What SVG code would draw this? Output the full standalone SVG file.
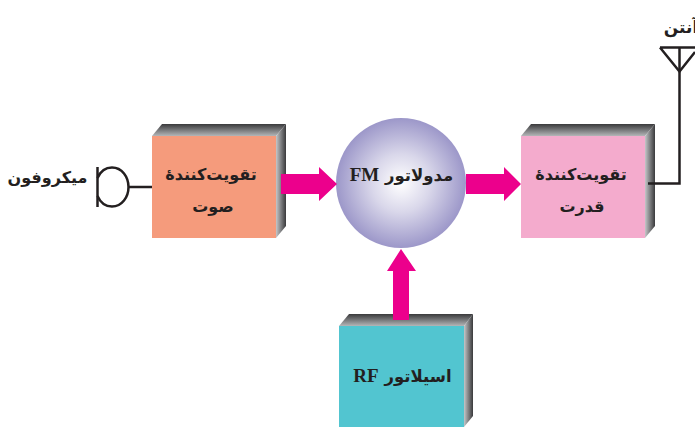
<svg xmlns="http://www.w3.org/2000/svg" width="695" height="427" viewBox="0 0 695 427">
<style>
text{font-family:"DejaVu Sans",sans-serif;font-weight:bold;fill:#231f20;text-anchor:middle;font-size:16px;direction:rtl}
.big{font-size:16.500px}
.lat{font-family:"Liberation Serif",serif;font-size:19px}
.wire{fill:none;stroke:#231f20;stroke-width:2.500}
.arrow{fill:#ec008c}
</style>
<defs>
<linearGradient id="top" x1="0" y1="1" x2="0" y2="0"><stop offset="0" stop-color="#b4b6b8"/><stop offset="1" stop-color="#3a3a3c"/></linearGradient>
<linearGradient id="side" x1="0" y1="0" x2="1" y2="0"><stop offset="0" stop-color="#c4c6c8"/><stop offset="1" stop-color="#3a3a3c"/></linearGradient>
<radialGradient id="ball" cx="0.5" cy="0.5" r="0.5"><stop offset="0" stop-color="#ffffff"/><stop offset="0.45" stop-color="#d9d7ea"/><stop offset="1" stop-color="#9c97c9"/></radialGradient>
</defs>
<g id="mic">
<path class="wire" d="M97.500 167V207"/>
<path class="wire" d="M97.500 178C101 170 107 167.500 112 167.500C122 167.500 128.500 177 128.500 187C128.500 197 122 206.500 112 206.500C107 206.500 101 204 97.500 196"/>
<text x="47.500" y="183">میکروفون</text>
</g>
<g id="audio-amp">
<path d="M152 136L162 124H286L276 136Z" fill="url(#top)"/>
<path d="M276 136L286 124V226L276 238Z" fill="url(#side)"/>
<rect x="152" y="136" width="124" height="102" fill="#f59b7c"/>
<text x="211" y="180">تقویت‌کنندهٔ</text>
<text x="213" y="212">صوت</text>
</g>
<g id="modulator">
<circle cx="401" cy="183" r="65" fill="url(#ball)"/>
<text class="big" x="401.500" y="181"><tspan>مدولاتور</tspan> <tspan class="lat">FM</tspan></text>
</g>
<g id="power-amp">
<path d="M521 136L531 124H655L645 136Z" fill="url(#top)"/>
<path d="M645 136L655 124V226L645 238Z" fill="url(#side)"/>
<rect x="521" y="136" width="124" height="102" fill="#f4abcd"/>
<text x="581" y="180">تقویت‌کنندهٔ</text>
<text x="582" y="212">قدرت</text>
</g>
<g id="oscillator">
<path d="M339 326L349 314H473L464 326Z" fill="url(#top)"/>
<path d="M464 326L473 314V416L464 427Z" fill="url(#side)"/>
<rect x="339" y="326" width="125" height="101" fill="#52c5d0"/>
<text class="big" x="402.500" y="382"><tspan>اسیلاتور</tspan> <tspan class="lat">RF</tspan></text>
</g>
<g id="antenna">
<text x="681" y="33" style="font-size:17px">آنتن</text>
</g>
<g id="connectors">
<path class="wire" d="M129 187H152"/>
<path class="wire" d="M648 183.500H679.500V47"/>
<path class="wire" d="M660 47.500H695M660 47.500L679.500 71.500L695 52"/>
<path class="arrow" d="M281 174H319V167L337 184L319 201V194H281Z"/>
<path class="arrow" d="M466 174H504V167L521 184L504 201V194H466Z"/>
<path class="arrow" d="M393 320V271H387L401 249L416 271H409V320Z"/>
</g>
</svg>
